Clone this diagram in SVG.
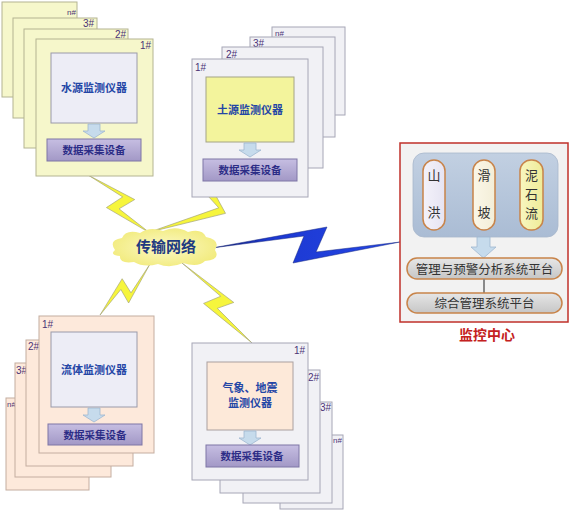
<svg xmlns="http://www.w3.org/2000/svg" xmlns:xlink="http://www.w3.org/1999/xlink" width="571" height="512" viewBox="0 0 571 512">
<style>
.cy{fill:#f6f7cb;stroke:#b4b492;stroke-width:1}
.cg{fill:#f1f1f5;stroke:#a6a6b6;stroke-width:1}
.cp{fill:#fde9db;stroke:#c4ada0;stroke-width:1}
.lb{font-family:"Liberation Sans",Arial,sans-serif;font-size:10px;fill:#4a3275}
.lbs{font-family:"Liberation Sans",Arial,sans-serif;font-size:8px;fill:#4a3275}
.inst{font-family:"Noto Sans CJK SC",sans-serif;font-size:11px;font-weight:bold;fill:#2446a6;text-anchor:middle}
.daq{fill:url(#gPur);stroke:#7e76a6;stroke-width:1}
.daqt{font-family:"Noto Sans CJK SC",sans-serif;font-size:10.5px;font-weight:bold;fill:#2c2c86;text-anchor:middle}
.bolt{fill:#f6f53c;stroke:#a0a078;stroke-width:0.6}
.pill{stroke:#c8844a;stroke-width:1.5}
.pt{font-family:"Noto Sans CJK SC",sans-serif;font-size:13px;fill:#333;text-anchor:middle}
.pt2{font-family:"Noto Sans CJK SC",sans-serif;font-size:12.5px;fill:#333;text-anchor:middle}
</style>
<defs>
<linearGradient id="gPur" x1="0" y1="0" x2="0" y2="1"><stop offset="0" stop-color="#c6bee2"/><stop offset="1" stop-color="#a298c6"/></linearGradient>
<linearGradient id="gBlue" x1="0" y1="0" x2="1" y2="0"><stop offset="0" stop-color="#101c6a"/><stop offset="0.3" stop-color="#1c38d0"/><stop offset="1" stop-color="#2446e6"/></linearGradient>
<radialGradient id="gCloud" cx="0.5" cy="0.5" r="0.6"><stop offset="0" stop-color="#fcf9c6"/><stop offset="1" stop-color="#f1ea78"/></radialGradient>
<linearGradient id="gPanel" x1="0" y1="0" x2="0" y2="1"><stop offset="0" stop-color="#c2d0e2"/><stop offset="1" stop-color="#aabcd4"/></linearGradient>
<linearGradient id="gGray" x1="0" y1="0" x2="0" y2="1"><stop offset="0" stop-color="#e6e6e6"/><stop offset="1" stop-color="#c6c6c6"/></linearGradient>
<linearGradient id="gP1" x1="0" y1="0" x2="1" y2="0"><stop offset="0" stop-color="#f4f2fa"/><stop offset="1" stop-color="#e6e4f2"/></linearGradient>
<linearGradient id="gP2" x1="0" y1="0" x2="1" y2="0"><stop offset="0" stop-color="#fbf7e8"/><stop offset="1" stop-color="#f3eed8"/></linearGradient>
<linearGradient id="gP3" x1="0" y1="0" x2="1" y2="0"><stop offset="0" stop-color="#f8f6c0"/><stop offset="1" stop-color="#efec98"/></linearGradient>
<path id="arr" d="M-6,0 H6 V7 H11 L0,14 L-11,7 H-6 Z" fill="#c6dbec" stroke="#a0b8d0" stroke-width="0.8"/>
</defs>
<rect x="0" y="0" width="571" height="512" fill="#ffffff"/>

<g id="connectors">
  <polygon class="bolt" transform="translate(88,175) rotate(43.1)" points="0,0 50.9,-14 45.8,3.5 84.9,0 35.7,11.2 40.3,-7.7"/>
  <polygon class="bolt" transform="translate(273,182) rotate(157.9)" points="0,0 66.4,14 60,-3.5 132.8,0 55.8,-11.2 58,7.7"/>
  <polygon class="bolt" transform="translate(150,264) rotate(134.4)" points="0,0 42.8,-12 38.6,3 71.4,0 30,9.6 33.9,-6.6"/>
  <polygon class="bolt" transform="translate(182,263) rotate(48.8)" points="0,0 63.8,-13 57.4,3.3 106.3,0 44.6,10.4 50.5,-7.2"/>
  <polygon fill="url(#gBlue)" stroke="#1a2a80" stroke-width="0.5" points="212,248 327,227 316,252 400,242 293,263 304,236"/>
</g>

<g id="node-water">
  <rect class="cy" x="2" y="2" width="75" height="95"/>
  <text class="lbs" x="76" y="15" text-anchor="end">n#</text>
  <rect class="cy" x="13" y="18" width="84" height="100"/>
  <text class="lb" x="94" y="27" text-anchor="end">3#</text>
  <rect class="cy" x="24" y="29" width="104" height="119"/>
  <text class="lb" x="126" y="38" text-anchor="end">2#</text>
  <rect class="cy" x="36" y="39" width="117" height="137"/>
  <text class="lb" x="151" y="49" text-anchor="end" font-size="11">1#</text>
  <rect x="51" y="53" width="86" height="70" fill="#ededf6" stroke="#9a9aaa"/>
  <text class="inst" x="94" y="92">水源监测仪器</text>
  <use href="#arr" xlink:href="#arr" transform="translate(94,124)"/>
  <rect class="daq" x="47" y="139" width="94" height="22"/>
  <text class="daqt" x="94" y="154">数据采集设备</text>
</g>

<g id="node-soil">
  <rect class="cg" x="272" y="27" width="73" height="88"/>
  <text class="lbs" x="275" y="36">n#</text>
  <rect class="cg" x="250" y="37" width="85" height="100"/>
  <text class="lb" x="253" y="47">3#</text>
  <rect class="cg" x="222" y="47" width="101" height="121"/>
  <text class="lb" x="226" y="58">2#</text>
  <rect class="cg" x="192" y="59" width="116" height="138"/>
  <text class="lb" x="195" y="71" font-size="11">1#</text>
  <rect x="206" y="77" width="88" height="65" fill="#f3f49c" stroke="#a4a486"/>
  <text class="inst" x="250" y="114">土源监测仪器</text>
  <use href="#arr" xlink:href="#arr" transform="translate(250,143)"/>
  <rect class="daq" x="203" y="159" width="94" height="22"/>
  <text class="daqt" x="250" y="174">数据采集设备</text>
</g>

<g id="node-fluid">
  <rect class="cp" x="6" y="398" width="83" height="92"/>
  <text class="lbs" x="7" y="407">n#</text>
  <rect class="cp" x="15" y="363" width="96" height="114"/>
  <text class="lb" x="16" y="374">3#</text>
  <rect class="cp" x="26" y="340" width="107" height="126"/>
  <text class="lb" x="28" y="350">2#</text>
  <rect class="cp" x="39" y="316" width="115" height="137"/>
  <text class="lb" x="42" y="328" font-size="11">1#</text>
  <rect x="51" y="332" width="86" height="75" fill="#ededf6" stroke="#9a9aaa"/>
  <text class="inst" x="94" y="374">流体监测仪器</text>
  <use href="#arr" xlink:href="#arr" transform="translate(94,408)"/>
  <rect class="daq" x="48" y="424" width="94" height="21"/>
  <text class="daqt" x="95" y="439">数据采集设备</text>
</g>

<g id="node-weather">
  <rect class="cg" x="280" y="435" width="63" height="74"/>
  <text class="lbs" x="342" y="443" text-anchor="end">n#</text>
  <rect class="cg" x="243" y="402" width="89" height="101"/>
  <text class="lb" x="331" y="411" text-anchor="end">3#</text>
  <rect class="cg" x="220" y="370" width="100" height="123"/>
  <text class="lb" x="319" y="381" text-anchor="end">2#</text>
  <rect class="cg" x="192" y="343" width="116" height="137"/>
  <text class="lb" x="305" y="354" text-anchor="end" font-size="11">1#</text>
  <rect x="207" y="362" width="86" height="68" fill="#fde9d9" stroke="#aaa0a0"/>
  <text class="inst" x="250" y="392">气象、地震</text>
  <text class="inst" x="250" y="407">监测仪器</text>
  <use href="#arr" xlink:href="#arr" transform="translate(250,431)"/>
  <rect class="daq" x="206" y="445" width="93" height="22"/>
  <text class="daqt" x="252" y="460">数据采集设备</text>
</g>

<g id="node-network">
  <path d="M115,250 Q108,240 122,238 Q126,229 140,233 Q150,226 163,231 Q176,225 188,232 Q202,228 206,237 Q221,240 215,250 Q221,260 205,261 Q198,268 183,263 Q170,269 158,264 Q144,268 134,262 Q119,264 120,256 Q109,255 115,250 Z" fill="url(#gCloud)"/>
  <text x="166" y="252" font-family="'Noto Sans CJK SC',sans-serif" font-size="15" font-weight="bold" fill="#1f3a80" text-anchor="middle">传输网络</text>
</g>

<g id="node-center">
  <rect x="400" y="143" width="168" height="179" fill="#f2f2f2" stroke="#c0302a" stroke-width="1.5"/>
  <rect x="413" y="153" width="145" height="84" rx="11" fill="url(#gPanel)" stroke="#a8b8cc" stroke-width="0.8"/>
  <rect class="pill" x="423" y="160" width="22" height="70" rx="11" fill="url(#gP1)"/>
  <text class="pt" x="434" y="180">山</text>
  <text class="pt" x="434" y="217">洪</text>
  <rect class="pill" x="473" y="160" width="22" height="70" rx="11" fill="url(#gP2)"/>
  <text class="pt" x="484" y="180">滑</text>
  <text class="pt" x="484" y="217">坡</text>
  <rect class="pill" x="520" y="160" width="23" height="70" rx="11" fill="url(#gP3)"/>
  <text class="pt" x="531.5" y="180">泥</text>
  <text class="pt" x="531.5" y="199">石</text>
  <text class="pt" x="531.5" y="218">流</text>
  <path d="M477,237 H490 V247 H496 L483.5,258 L471,247 H477 Z" fill="#c6dbec" stroke="#a0b8d0" stroke-width="0.8"/>
  <rect class="pill" x="407" y="258" width="155" height="21" rx="10" fill="url(#gGray)"/>
  <text class="pt2" x="484.5" y="273.5">管理与预警分析系统平台</text>
  <line x1="484" y1="279" x2="484" y2="293" stroke="#8a8a8a" stroke-width="2"/>
  <rect class="pill" x="407" y="293" width="155" height="20" rx="10" fill="url(#gGray)"/>
  <text class="pt2" x="484.5" y="307.5">综合管理系统平台</text>
  <text x="487" y="340" font-family="'Noto Sans CJK SC',sans-serif" font-size="14" font-weight="bold" fill="#c42020" text-anchor="middle">监控中心</text>
</g>
</svg>
